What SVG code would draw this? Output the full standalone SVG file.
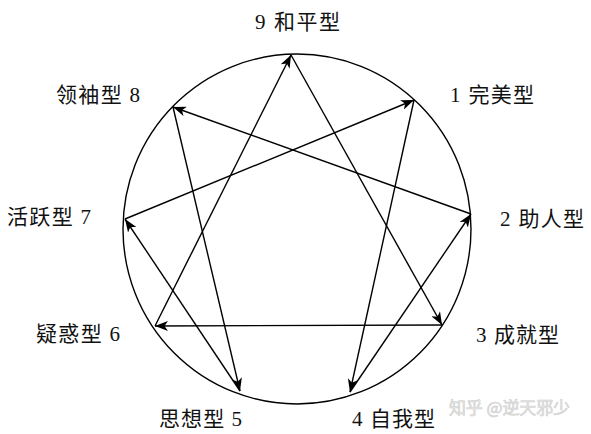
<svg xmlns="http://www.w3.org/2000/svg" width="591" height="434" viewBox="0 0 591 434">
<style>
.lbl{font-family:"Liberation Serif","Noto Sans CJK SC",serif;font-size:21px;fill:#111}
.ln{stroke:#000;stroke-width:1.4;fill:none}
.wm{font-family:"Noto Sans CJK SC","Liberation Sans",sans-serif;font-size:17px;fill:#e6e6e6;stroke:#cfcfcf;stroke-width:0.6}
</style>
<defs>
<marker id="ah" markerUnits="userSpaceOnUse" markerWidth="14" markerHeight="10" refX="13" refY="5" orient="auto">
<path d="M0,0 L13,5 L0,10 L3.5,5 z" fill="#000"/>
</marker>
</defs>
<rect width="591" height="434" fill="#fff"/>
<ellipse cx="297" cy="229" rx="174" ry="175" class="ln"/>
<g id="connectors" class="ln" marker-end="url(#ah)">
<line x1="414" y1="100" x2="350" y2="392"/>
<line x1="350" y1="392" x2="471" y2="214"/>
<line x1="471" y1="214" x2="173" y2="107"/>
<line x1="173" y1="107" x2="240" y2="391"/>
<line x1="240" y1="391" x2="125" y2="219"/>
<line x1="125" y1="219" x2="414" y2="100"/>
<line x1="291" y1="55" x2="442" y2="325"/>
<line x1="442" y1="325" x2="155" y2="326"/>
<line x1="155" y1="326" x2="291" y2="55"/>
</g>
<g id="n9"><text class="lbl" x="255" y="29" textLength="85" lengthAdjust="spacing">9 和平型</text></g>
<g id="n1"><text class="lbl" x="450" y="102" textLength="84" lengthAdjust="spacing">1 完美型</text></g>
<g id="n2"><text class="lbl" x="500" y="226" textLength="84" lengthAdjust="spacing">2 助人型</text></g>
<g id="n3"><text class="lbl" x="476" y="342" textLength="83" lengthAdjust="spacing">3 成就型</text></g>
<g id="n4"><text class="lbl" x="352" y="426" textLength="83" lengthAdjust="spacing">4 自我型</text></g>
<g id="n5"><text class="lbl" x="159" y="426" textLength="83" lengthAdjust="spacing">思想型 5</text></g>
<g id="n6"><text class="lbl" x="36" y="341" textLength="84" lengthAdjust="spacing">疑惑型 6</text></g>
<g id="n7"><text class="lbl" x="7" y="224" textLength="84" lengthAdjust="spacing">活跃型 7</text></g>
<g id="n8"><text class="lbl" x="56" y="102" textLength="84" lengthAdjust="spacing">领袖型 8</text></g>
<text class="wm" x="449" y="414" textLength="121" lengthAdjust="spacing">知乎 @逆天邪少</text>
</svg>
